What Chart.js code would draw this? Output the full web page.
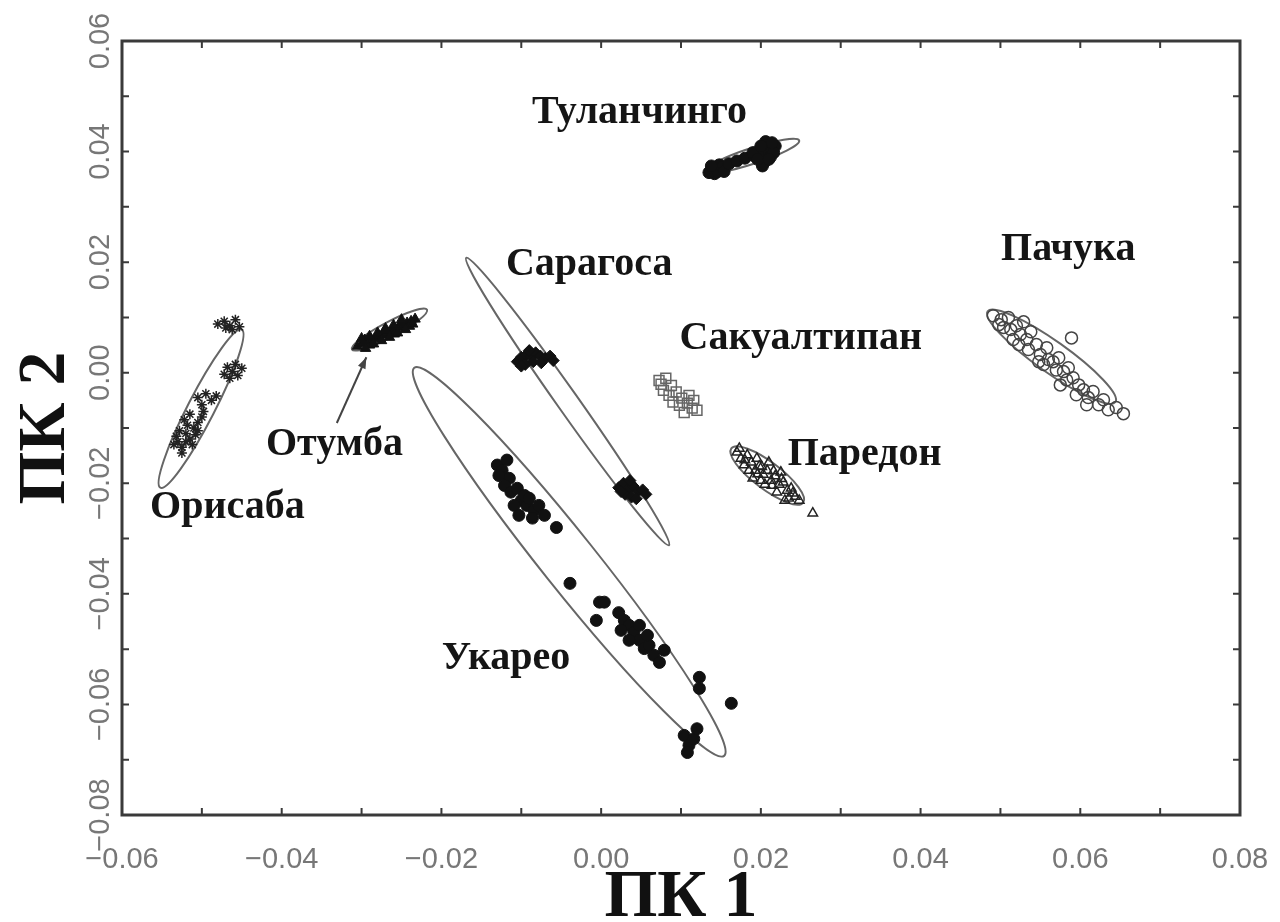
<!DOCTYPE html>
<html>
<head>
<meta charset="utf-8">
<script src="https://cdn.jsdelivr.net/npm/chart.js@4.4.0/dist/chart.umd.min.js"></script>
<style>
body { margin: 0; background: #fff; }
canvas { display: block; }
</style>
</head>
<body>
<canvas id="pca" width="1280" height="922"></canvas>
<script>
// scores on PC1 / PC2
const orizaba = [[-0.0480,0.0088],[-0.0472,0.0093],[-0.0465,0.0085],[-0.0458,0.0096],[-0.0453,0.0083],[-0.0462,0.0078],[-0.0470,0.0081],
  [-0.0468,0.0010],[-0.0462,0.0002],[-0.0458,0.0015],[-0.0455,-0.0005],[-0.0465,-0.0010],[-0.0450,0.0008],[-0.0472,-0.0003],
  [-0.0505,-0.0045],[-0.0495,-0.0038],[-0.0488,-0.0050],[-0.0500,-0.0058],[-0.0482,-0.0042],
  [-0.0530,-0.0125],[-0.0525,-0.0135],[-0.0520,-0.0110],[-0.0515,-0.0120],[-0.0510,-0.0100],[-0.0505,-0.0090],[-0.0518,-0.0095],
  [-0.0528,-0.0105],[-0.0535,-0.0130],[-0.0512,-0.0130],[-0.0500,-0.0080],[-0.0522,-0.0085],[-0.0508,-0.0112],[-0.0498,-0.0070],
  [-0.0532,-0.0115],[-0.0525,-0.0145],[-0.0515,-0.0075],[-0.0520,-0.0125],[-0.0505,-0.0105]];
const otumba = [[-0.0305,0.0048],[-0.0299,0.0053],[-0.0293,0.0055],[-0.0288,0.0059],[-0.0283,0.0062],[-0.0278,0.0066],[-0.0273,0.0068],
  [-0.0268,0.0071],[-0.0263,0.0075],[-0.0258,0.0079],[-0.0253,0.0082],[-0.0248,0.0086],[-0.0243,0.0090],[-0.0238,0.0093],[-0.0233,0.0097],
  [-0.0290,0.0050],[-0.0271,0.0077],[-0.0259,0.0070],[-0.0250,0.0091],[-0.0240,0.0084],[-0.0296,0.0059],
  [-0.0300,0.0062],[-0.0290,0.0066],[-0.0280,0.0072],[-0.0270,0.0080],[-0.0260,0.0086],[-0.0250,0.0096],[-0.0295,0.0044],
  [-0.0285,0.0052],[-0.0275,0.0058],[-0.0265,0.0064],[-0.0255,0.0072],[-0.0245,0.0078],[-0.0236,0.0088]];
const tulancingo = [[0.0138,0.0366],[0.0144,0.0372],[0.0150,0.0368],[0.0142,0.0360],[0.0148,0.0376],[0.0135,0.0362],
  [0.0140,0.0370],[0.0146,0.0364],[0.0152,0.0372],[0.0138,0.0374],[0.0154,0.0364],
  [0.0160,0.0378],[0.0170,0.0383],[0.0180,0.0388],
  [0.0192,0.0392],[0.0198,0.0400],[0.0204,0.0406],[0.0210,0.0412],[0.0200,0.0388],[0.0208,0.0395],[0.0214,0.0402],
  [0.0204,0.0380],[0.0196,0.0396],[0.0218,0.0410],[0.0212,0.0390],[0.0190,0.0398],[0.0206,0.0418],[0.0216,0.0398],
  [0.0202,0.0374],[0.0196,0.0386],[0.0210,0.0386],[0.0200,0.0410],[0.0214,0.0416]];
const zaragoza = [[-0.0105,0.0020],[-0.0100,0.0028],[-0.0094,0.0032],[-0.0088,0.0030],[-0.0082,0.0036],[-0.0076,0.0030],[-0.0070,0.0026],
  [-0.0064,0.0030],[-0.0085,0.0020],[-0.0095,0.0015],[-0.0075,0.0018],[-0.0090,0.0040],[-0.0060,0.0022],[-0.0100,0.0012],
  [0.0022,-0.0208],[0.0028,-0.0200],[0.0034,-0.0210],[0.0040,-0.0205],[0.0046,-0.0215],[0.0052,-0.0212],[0.0030,-0.0220],
  [0.0038,-0.0225],[0.0044,-0.0228],[0.0025,-0.0215],[0.0056,-0.0220],[0.0036,-0.0195]];
const ucareo = [[-0.0130,-0.0167],[-0.0124,-0.0177],[-0.0115,-0.0191],[-0.0121,-0.0204],[-0.0113,-0.0216],[-0.0105,-0.0209],
  [-0.0100,-0.0231],[-0.0093,-0.0240],[-0.0084,-0.0249],[-0.0078,-0.0240],[-0.0109,-0.0240],[-0.0096,-0.0222],[-0.0128,-0.0186],
  [-0.0103,-0.0258],[-0.0090,-0.0227],[-0.0118,-0.0158],[-0.0086,-0.0263],[-0.0071,-0.0258],[-0.0056,-0.0280],[-0.0039,-0.0381],
  [-0.0002,-0.0415],[0.0004,-0.0415],[-0.0006,-0.0448],[0.0022,-0.0434],[0.0029,-0.0448],[0.0035,-0.0457],[0.0041,-0.0470],
  [0.0048,-0.0484],[0.0054,-0.0499],[0.0060,-0.0493],[0.0066,-0.0511],[0.0073,-0.0524],[0.0048,-0.0457],[0.0035,-0.0484],
  [0.0025,-0.0466],[0.0058,-0.0475],[0.0079,-0.0502],[0.0123,-0.0551],[0.0123,-0.0571],[0.0163,-0.0598],
  [0.0104,-0.0656],[0.0110,-0.0674],[0.0116,-0.0662],[0.0108,-0.0687],[0.0120,-0.0644]];
const zacualtipan = [[0.00725,-0.0014],[0.0081,-0.0010],[0.0088,-0.0023],[0.0078,-0.0032],[0.0085,-0.0041],[0.0094,-0.0035],
  [0.0101,-0.0046],[0.0108,-0.0055],[0.0114,-0.0064],[0.0098,-0.0059],[0.0090,-0.0053],[0.0104,-0.0072],[0.0116,-0.0050],
  [0.0075,-0.0021],[0.0110,-0.0041],[0.0120,-0.0068]];
const paredon = [[0.0170,-0.0144],[0.0175,-0.0155],[0.0183,-0.0149],[0.0179,-0.0167],[0.0188,-0.0162],[0.0193,-0.0177],[0.0198,-0.0169],
  [0.0203,-0.0184],[0.0208,-0.0177],[0.0213,-0.0195],[0.0218,-0.0187],[0.0223,-0.0202],[0.0228,-0.0198],[0.0233,-0.0213],
  [0.0238,-0.0209],[0.0243,-0.0224],[0.0190,-0.0191],[0.0205,-0.0202],[0.0220,-0.0216],[0.0235,-0.0227],[0.0173,-0.0137],
  [0.0210,-0.0162],[0.0225,-0.0180],[0.0195,-0.0155],[0.0248,-0.0231],[0.0230,-0.0231],[0.0200,-0.0195],[0.0185,-0.0177],
  [0.0180,-0.0158],[0.0196,-0.0183],[0.0214,-0.0204],[0.0226,-0.0192],[0.0240,-0.0218],[0.0216,-0.0178],[0.0201,-0.0170],
  [0.0265,-0.0254]];
const pachuca = [[0.0491,0.0103],[0.0501,0.0096],[0.0510,0.0100],[0.0504,0.0082],[0.0513,0.0078],[0.0520,0.0085],[0.0525,0.0069],
  [0.0516,0.0060],[0.0533,0.0060],[0.0538,0.0074],[0.0545,0.0051],[0.0535,0.0042],[0.0550,0.0033],[0.0558,0.0045],[0.0560,0.0024],
  [0.0554,0.0015],[0.0566,0.0020],[0.0573,0.0027],[0.0570,0.0005],[0.0579,0.0002],[0.0585,0.0009],[0.0583,-0.0013],[0.0591,-0.0009],
  [0.0598,-0.0022],[0.0604,-0.0031],[0.0595,-0.0040],[0.0610,-0.0045],[0.0616,-0.0034],[0.0623,-0.0058],[0.0629,-0.0049],
  [0.0635,-0.0067],[0.0645,-0.0063],[0.0654,-0.0074],[0.0589,0.0063],[0.0523,0.0051],[0.0548,0.0020],[0.0575,-0.0022],
  [0.0608,-0.0058],[0.0498,0.0087],[0.0529,0.0092]];

// confidence ellipses: centre, tip of the major axis, minor/major ratio
const ellCx    = [-0.0501, -0.0265, 0.0189, -0.0042, -0.0040, 0.0208, 0.0564];
const ellCy    = [-0.0065,  0.0078, 0.0392, -0.0052, -0.0342, -0.0186, 0.0029];
const ellTipX  = [-0.0450, -0.0218, 0.0248, -0.0169, -0.0234, 0.0253, 0.0644];
const ellTipY  = [ 0.0078,  0.0114, 0.0420,  0.0208,  0.0009, -0.0235, -0.0053];
const ellRatio = [0.15, 0.18, 0.16, 0.06, 0.11, 0.30, 0.20];

const groupNames = ['Орисаба', 'Отумба', 'Туланчинго', 'Сарагоса', 'Укарео', 'Сакуалтипан', 'Паредон', 'Пачука'];
const labelX = [-0.0468, -0.0334, 0.0048, -0.0015, -0.0119, 0.0250, 0.0330, 0.0585];
const labelY = [-0.0245, -0.0131, 0.0471, 0.0195, -0.0517, 0.0062, -0.0149, 0.0222];
const arrowFrom = [-0.0331, -0.0091];
const arrowTo = [-0.0294, 0.0028];

const xTickVals = [-0.06,-0.05,-0.04,-0.03,-0.02,-0.01,0,0.01,0.02,0.03,0.04,0.05,0.06,0.07,0.08];
const yTickVals = [-0.08,-0.07,-0.06,-0.05,-0.04,-0.03,-0.02,-0.01,0,0.01,0.02,0.03,0.04,0.05,0.06];
const xLabelVals = [-0.06,-0.04,-0.02,0,0.02,0.04,0.06,0.08];
const yLabelVals = [-0.08,-0.06,-0.04,-0.02,0,0.02,0.04,0.06];

function fmt(v) {
  return (Math.abs(v) < 1e-9 ? '0.00' : v.toFixed(2)).replace('-', '\u2212');
}
function hasLabel(list, v) {
  return list.some(l => Math.abs(l - v) < 1e-9);
}
function pts(arr) {
  return arr.map(p => ({x: p[0], y: p[1]}));
}

const overlay = {
  id: 'overlay',
  beforeDatasetsDraw(chart) {
    const ctx = chart.ctx, xs = chart.scales.x, ys = chart.scales.y;
    ctx.save();
    ctx.strokeStyle = '#666';
    ctx.lineWidth = 2;
    for (let i = 0; i < ellCx.length; i++) {
      const cx = xs.getPixelForValue(ellCx[i]), cy = ys.getPixelForValue(ellCy[i]);
      const tx = xs.getPixelForValue(ellTipX[i]), ty = ys.getPixelForValue(ellTipY[i]);
      const r = Math.hypot(tx - cx, ty - cy);
      ctx.beginPath();
      ctx.ellipse(cx, cy, r, r * ellRatio[i], Math.atan2(ty - cy, tx - cx), 0, 2 * Math.PI);
      ctx.stroke();
    }
    ctx.restore();
  },
  afterDraw(chart) {
    const ctx = chart.ctx, a = chart.chartArea, xs = chart.scales.x, ys = chart.scales.y;
    ctx.save();
    // frame + inward ticks
    ctx.strokeStyle = '#3a3a3a';
    ctx.lineWidth = 3;
    ctx.strokeRect(a.left, a.top, a.right - a.left, a.bottom - a.top);
    ctx.lineWidth = 2;
    ctx.beginPath();
    xTickVals.forEach(v => {
      const p = xs.getPixelForValue(v);
      ctx.moveTo(p, a.bottom); ctx.lineTo(p, a.bottom - 7);
      ctx.moveTo(p, a.top); ctx.lineTo(p, a.top + 7);
    });
    yTickVals.forEach(v => {
      const p = ys.getPixelForValue(v);
      ctx.moveTo(a.left, p); ctx.lineTo(a.left + 7, p);
      ctx.moveTo(a.right, p); ctx.lineTo(a.right - 7, p);
    });
    ctx.stroke();

    // rotated y tick labels
    ctx.fillStyle = '#777';
    ctx.font = '29px "Liberation Sans", Arial, sans-serif';
    ctx.textAlign = 'center';
    ctx.textBaseline = 'middle';
    yLabelVals.forEach(v => {
      ctx.save();
      ctx.translate(a.left - 21, ys.getPixelForValue(v));
      ctx.rotate(-Math.PI / 2);
      ctx.fillText(fmt(v), 0, 0);
      ctx.restore();
    });

    // group names
    ctx.fillStyle = '#151515';
    ctx.font = 'bold 40px "Liberation Serif", "Times New Roman", serif';
    groupNames.forEach((n, i) => {
      ctx.fillText(n, xs.getPixelForValue(labelX[i]), ys.getPixelForValue(labelY[i]));
    });

    // arrow to Отумба
    const x0 = xs.getPixelForValue(arrowFrom[0]), y0 = ys.getPixelForValue(arrowFrom[1]);
    const x1 = xs.getPixelForValue(arrowTo[0]), y1 = ys.getPixelForValue(arrowTo[1]);
    const ang = Math.atan2(y1 - y0, x1 - x0);
    ctx.strokeStyle = '#444';
    ctx.fillStyle = '#444';
    ctx.lineWidth = 2;
    ctx.beginPath();
    ctx.moveTo(x0, y0); ctx.lineTo(x1, y1);
    ctx.stroke();
    ctx.beginPath();
    ctx.moveTo(x1, y1);
    ctx.lineTo(x1 - 12 * Math.cos(ang - 0.35), y1 - 12 * Math.sin(ang - 0.35));
    ctx.lineTo(x1 - 12 * Math.cos(ang + 0.35), y1 - 12 * Math.sin(ang + 0.35));
    ctx.closePath();
    ctx.fill();
    ctx.restore();
  }
};

const clear = 'rgba(255,255,255,0)';
new Chart(document.getElementById('pca'), {
  type: 'scatter',
  data: {
    datasets: [
      { label: groupNames[0], data: pts(orizaba), pointStyle: 'star', pointRadius: 5, borderColor: '#222', backgroundColor: '#222', borderWidth: 1.5 },
      { label: groupNames[1], data: pts(otumba), pointStyle: 'triangle', pointRadius: 6, borderColor: '#111', backgroundColor: '#111', borderWidth: 1 },
      { label: groupNames[2], data: pts(tulancingo), pointStyle: 'circle', pointRadius: 6, borderColor: '#111', backgroundColor: '#111', borderWidth: 1 },
      { label: groupNames[3], data: pts(zaragoza), pointStyle: 'rectRot', pointRadius: 6, borderColor: '#111', backgroundColor: '#111', borderWidth: 1 },
      { label: groupNames[4], data: pts(ucareo), pointStyle: 'circle', pointRadius: 6, borderColor: '#111', backgroundColor: '#111', borderWidth: 1 },
      { label: groupNames[5], data: pts(zacualtipan), pointStyle: 'rect', pointRadius: 7, borderColor: '#666', backgroundColor: clear, borderWidth: 1.5 },
      { label: groupNames[6], data: pts(paredon), pointStyle: 'triangle', pointRadius: 5.5, borderColor: '#222', backgroundColor: clear, borderWidth: 1.5 },
      { label: groupNames[7], data: pts(pachuca), pointStyle: 'circle', pointRadius: 6, borderColor: '#444', backgroundColor: clear, borderWidth: 1.5 }
    ]
  },
  options: {
    responsive: false,
    devicePixelRatio: 1,
    animation: false,
    layout: { padding: { top: 41, right: 40, left: 0, bottom: 0 } },
    plugins: { legend: { display: false }, tooltip: { enabled: false } },
    scales: {
      x: {
        type: 'linear', min: -0.06, max: 0.08,
        afterBuildTicks: s => { s.ticks = xTickVals.map(v => ({ value: v })); },
        afterFit: s => { s.height = 107; s.paddingLeft = 0; s.paddingRight = 0; },
        grid: { display: false, drawTicks: false },
        border: { display: false },
        ticks: {
          autoSkip: false, maxRotation: 0, padding: 28, color: '#777',
          font: { family: '"Liberation Sans", Arial, sans-serif', size: 29 },
          callback: v => hasLabel(xLabelVals, v) ? fmt(v) : ''
        },
        title: {
          display: true, text: 'ПК 1', color: '#111', padding: { top: 0, bottom: -10 },
          font: { family: '"Liberation Serif", "Times New Roman", serif', size: 68, weight: 'bold', lineHeight: 1.0 }
        }
      },
      y: {
        type: 'linear', min: -0.08, max: 0.06,
        afterBuildTicks: s => { s.ticks = yTickVals.map(v => ({ value: v })); },
        afterFit: s => { s.width = 122; s.paddingTop = 0; s.paddingBottom = 0; },
        grid: { display: false, drawTicks: false },
        border: { display: false },
        ticks: { display: false },
        title: {
          display: true, text: 'ПК 2', color: '#111', padding: { top: 6, bottom: 0 },
          font: { family: '"Liberation Serif", "Times New Roman", serif', size: 68, weight: 'bold' }
        }
      }
    }
  },
  plugins: [overlay]
});
</script>
</body>
</html>
